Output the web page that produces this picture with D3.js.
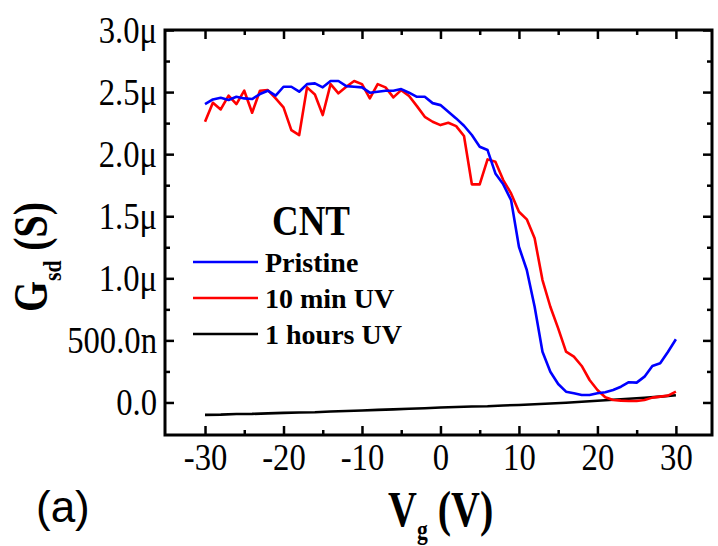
<!DOCTYPE html>
<html>
<head>
<meta charset="utf-8">
<script src="https://cdn.jsdelivr.net/npm/d3@7"></script>
<style>
  html, body { margin: 0; padding: 0; background: #fff; }
  svg { display: block; }
</style>
</head>
<body>
<svg id="chart" width="718" height="546"></svg>
<script>
// Gate voltage sweep (V), 1 V steps
const vg = d3.range(-30, 31, 1);

// Conductance in microsiemens
const pristine = [
  2.403, 2.441, 2.454, 2.436, 2.462, 2.449, 2.444, 2.484, 2.511, 2.471,
  2.543, 2.543, 2.503, 2.564, 2.570, 2.538, 2.589, 2.589, 2.548, 2.543,
  2.538, 2.495, 2.503, 2.511, 2.511, 2.524, 2.495, 2.462, 2.462, 2.411,
  2.395, 2.342, 2.288, 2.229, 2.154, 2.060, 2.033, 1.845, 1.757, 1.630,
  1.254, 1.067, 0.771, 0.409, 0.248, 0.149, 0.087, 0.074, 0.060, 0.060,
  0.074, 0.082, 0.101, 0.127, 0.163, 0.160, 0.208, 0.294, 0.316, 0.409,
  0.509
];
const uv10min = [
  2.261, 2.414, 2.360, 2.471, 2.403, 2.511, 2.334, 2.511, 2.516, 2.449,
  2.377, 2.194, 2.154, 2.538, 2.481, 2.315, 2.564, 2.490, 2.543, 2.589,
  2.564, 2.449, 2.564, 2.538, 2.457, 2.516, 2.468, 2.387, 2.301, 2.261,
  2.234, 2.253, 2.226, 2.146, 1.757, 1.757, 1.958, 1.939, 1.791, 1.684,
  1.536, 1.475, 1.322, 0.986, 0.771, 0.597, 0.409, 0.369, 0.294, 0.181,
  0.101, 0.042, 0.020, 0.015, 0.012, 0.012, 0.020, 0.039, 0.047, 0.055,
  0.087
];
// 1 hour UV sweep, 2 V steps
const vg1h = d3.range(-30, 31, 2);
const uv1h = [
  -0.100, -0.098, -0.093, -0.092, -0.088, -0.084, -0.081, -0.079, -0.073, -0.069,
  -0.065, -0.060, -0.056, -0.050, -0.046, -0.040, -0.037, -0.033, -0.030, -0.024,
  -0.020, -0.014, -0.008, -0.002, 0.006, 0.014, 0.022, 0.030, 0.038, 0.047,
  0.058
];

const xTicks = [-30, -20, -10, 0, 10, 20, 30];
const xTickLabels = ["-30", "-20", "-10", "0", "10", "20", "30"];
const xMinor = [-25, -15, -5, 5, 15, 25];
const yTicks = [0, 0.5, 1.0, 1.5, 2.0, 2.5, 3.0];
const yTickLabels = ["0.0", "500.0n", "1.0\u03bc", "1.5\u03bc", "2.0\u03bc", "2.5\u03bc", "3.0\u03bc"];
const yMinor = [0.25, 0.75, 1.25, 1.75, 2.25, 2.75];

const seriesNames = ["Pristine", "10 min UV", "1 hours UV"];
const seriesColors = ["#0000ff", "#ff0000", "#000000"];

const svg = d3.select("#chart");
const L = 165, R = 712, T = 30, B = 435;

const x = d3.scaleLinear().domain([-35.1, 34.6]).range([L, R]);
const y = d3.scaleLinear().domain([-0.262, 3.0]).range([B, T]);

const serif = "'Liberation Serif', 'Times New Roman', serif";
const tickW = 2.5;
const squeeze = 0.86;   // narrow serif face for the tick labels

function styleAxis(g) {
  g.select(".domain").remove();
  g.selectAll(".tick line").attr("stroke", "#000").attr("stroke-width", tickW);
  g.selectAll("text")
    .attr("font-family", serif).attr("font-size", 38).attr("fill", "#000")
    .attr("transform", `scale(${squeeze},1)`);
}

// major + minor ticks on all four sides, pointing inward
const fmtY = d => yTickLabels[yTicks.indexOf(d)];
const fmtX = d => xTickLabels[xTicks.indexOf(d)];
svg.append("g").attr("transform", `translate(${L},0)`)
  .call(d3.axisLeft(y).tickValues(yTicks).tickFormat(fmtY).tickSize(-9).tickPadding(8 / squeeze))
  .call(styleAxis);
svg.append("g").attr("transform", `translate(${L},0)`)
  .call(d3.axisLeft(y).tickValues(yMinor).tickFormat("").tickSize(-5))
  .call(styleAxis);
svg.append("g").attr("transform", `translate(${R},0)`)
  .call(d3.axisRight(y).tickValues(yTicks).tickFormat("").tickSize(-9))
  .call(styleAxis);
svg.append("g").attr("transform", `translate(${R},0)`)
  .call(d3.axisRight(y).tickValues(yMinor).tickFormat("").tickSize(-5))
  .call(styleAxis);

const xAxisG = svg.append("g").attr("transform", `translate(0,${B})`)
  .call(d3.axisBottom(x).tickValues(xTicks).tickFormat(fmtX).tickSize(-9).tickPadding(8))
  .call(styleAxis);
// keep the squeezed labels centred on their ticks
xAxisG.selectAll(".tick text").attr("transform", null)
  .attr("transform", `scale(${squeeze},1)`);
xAxisG.selectAll(".tick").each(function () {
  const t = d3.select(this);
  const tr = t.attr("transform");
  const px = +tr.match(/translate\(([-\d.]+)/)[1];
  t.attr("transform", null);
  t.select("line").attr("transform", `translate(${px},0)`);
  t.select("text").attr("transform", `translate(${px},0) scale(${squeeze},1)`);
});
svg.append("g").attr("transform", `translate(0,${B})`)
  .call(d3.axisBottom(x).tickValues(xMinor).tickFormat("").tickSize(-5))
  .call(styleAxis);
svg.append("g").attr("transform", `translate(0,${T})`)
  .call(d3.axisTop(x).tickValues(xTicks).tickFormat("").tickSize(-9))
  .call(styleAxis);
svg.append("g").attr("transform", `translate(0,${T})`)
  .call(d3.axisTop(x).tickValues(xMinor).tickFormat("").tickSize(-5))
  .call(styleAxis);

// data lines
const line = d3.line().x(d => x(d[0])).y(d => y(d[1]));
const seriesData = [
  d3.zip(vg, pristine),
  d3.zip(vg, uv10min),
  d3.zip(vg1h, uv1h)
];
// black underneath, then red, blue on top
[2, 1, 0].forEach(i => {
  svg.append("path")
    .datum(seriesData[i])
    .attr("fill", "none")
    .attr("stroke", seriesColors[i])
    .attr("stroke-width", 2.6)
    .attr("stroke-linejoin", "round")
    .attr("d", line);
});

// frame
svg.append("rect")
  .attr("x", L).attr("y", T).attr("width", R - L).attr("height", B - T)
  .attr("fill", "none").attr("stroke", "#000").attr("stroke-width", 3);

// legend
svg.append("text")
  .attr("transform", "translate(272,235) scale(0.88,1)")
  .attr("font-family", serif).attr("font-weight", "bold").attr("font-size", 42)
  .text("CNT");
const legY = [262, 298, 334];
seriesNames.forEach((name, i) => {
  svg.append("line")
    .attr("x1", 193).attr("x2", 258).attr("y1", legY[i]).attr("y2", legY[i])
    .attr("stroke", seriesColors[i]).attr("stroke-width", 2.6);
  svg.append("text")
    .attr("x", 265).attr("y", legY[i] + 10)
    .attr("font-family", serif).attr("font-weight", "bold").attr("font-size", 28)
    .text(name);
});

// axis titles
const xt = svg.append("text")
  .attr("transform", "translate(388,526) scale(0.8,1)")
  .attr("font-family", serif).attr("font-weight", "bold").attr("font-size", 50);
xt.append("tspan").text("V");
xt.append("tspan").attr("font-size", 27).attr("dy", 13).text("g");
xt.append("tspan").attr("dy", -13).text(" (V)");

const yt = svg.append("text")
  .attr("transform", "translate(47,312) rotate(-90) scale(0.83,1)")
  .attr("font-family", serif).attr("font-weight", "bold").attr("font-size", 48);
yt.append("tspan").text("G");
yt.append("tspan").attr("font-size", 26).attr("dy", 14).text("sd");
yt.append("tspan").attr("dy", -14).text(" (S)");

// panel label
svg.append("text")
  .attr("x", 36).attr("y", 522)
  .attr("font-family", "'Liberation Sans', Arial, sans-serif").attr("font-size", 44)
  .text("(a)");
</script>
</body>
</html>
